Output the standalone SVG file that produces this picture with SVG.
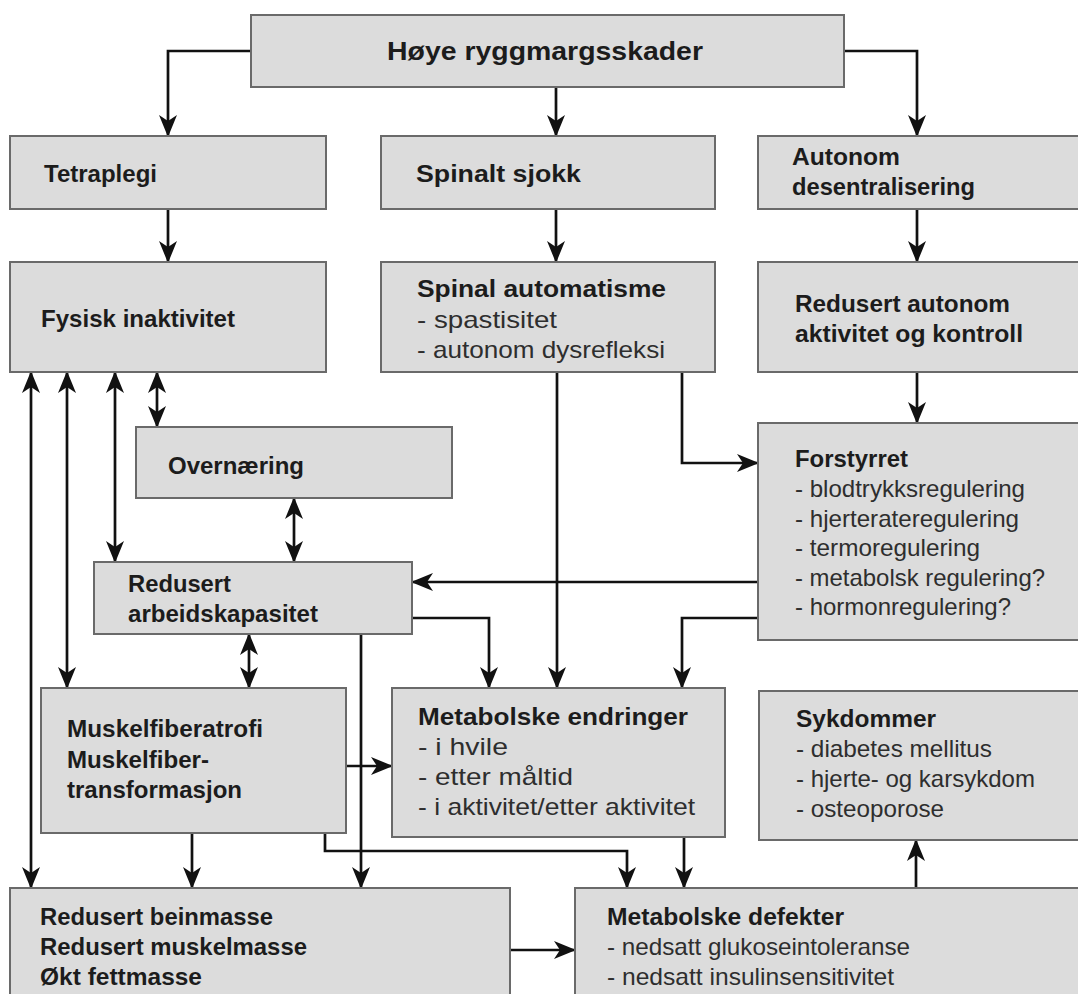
<svg xmlns="http://www.w3.org/2000/svg" width="1078" height="994" viewBox="0 0 1078 994">
<defs>
<style>
.box{fill:#dcdcdc;stroke:#6a6a6a;stroke-width:2}
.b{font-family:"Liberation Sans",Arial,sans-serif;font-weight:bold;font-size:24px;fill:#1c1c1c}
.r{font-family:"Liberation Sans",Arial,sans-serif;font-size:24px;fill:#2e2e2e}
text{lengthAdjust:spacingAndGlyphs}
.c{fill:none;stroke:#111;stroke-width:2.7}
.a{marker-end:url(#ah)}
.d{marker-start:url(#ah);marker-end:url(#ah)}
</style>
<marker id="ah" viewBox="0 0 22 20" refX="21" refY="10" markerWidth="22" markerHeight="20" markerUnits="userSpaceOnUse" orient="auto-start-reverse">
<path d="M0,1 L22,10 L0,19 L6,10 z" fill="#111"/>
</marker>
</defs>
<rect width="1078" height="994" fill="#fff"/>

<g id="connectors">
<path class="c a" d="M251,51 H168 V136"/>
<path class="c a" d="M556,87 V136"/>
<path class="c a" d="M844,51 H917 V136"/>
<path class="c a" d="M168,209 V262"/>
<path class="c a" d="M556,209 V262"/>
<path class="c a" d="M917,209 V262"/>
<path class="c a" d="M917,372 V423"/>
<path class="c a" d="M682,372 V463 H758"/>
<path class="c a" d="M557,372 V688"/>
<path class="c a" d="M758,582 H412"/>
<path class="c a" d="M758,618 H682 V688"/>
<path class="c a" d="M412,618 H489 V688"/>
<path class="c a" d="M361,634 V888"/>
<path class="c d" d="M249,634 V688"/>
<path class="c d" d="M157,372 V427"/>
<path class="c d" d="M294,498 V562"/>
<path class="c d" d="M115,372 V562"/>
<path class="c d" d="M67,372 V688"/>
<path class="c d" d="M31,372 V888"/>
<path class="c a" d="M346,766 H392"/>
<path class="c a" d="M192,833 V888"/>
<path class="c a" d="M325,833 V851 H627 V888"/>
<path class="c a" d="M684,837 V888"/>
<path class="c a" d="M510,950 H575"/>
<path class="c a" d="M916,888 V840"/>
</g>

<g id="n-hoye">
<rect class="box" x="251" y="15" width="593" height="72"/>
<text class="b" x="387" y="60" style="font-size:26px" textLength="316" lengthAdjust="spacingAndGlyphs">Høye ryggmargsskader</text>
</g>
<g id="n-tetraplegi">
<rect class="box" x="10" y="136" width="316" height="73"/>
<text class="b" x="44" y="182" textLength="113" lengthAdjust="spacingAndGlyphs">Tetraplegi</text>
</g>
<g id="n-spinalt">
<rect class="box" x="381" y="136" width="334" height="73"/>
<text class="b" x="416" y="182" textLength="165" lengthAdjust="spacingAndGlyphs">Spinalt sjokk</text>
</g>
<g id="n-autonom">
<rect class="box" x="758" y="136" width="330" height="73"/>
<text class="b" x="792" y="165" textLength="108" lengthAdjust="spacingAndGlyphs">Autonom</text>
<text class="b" x="792" y="195" textLength="183" lengthAdjust="spacingAndGlyphs">desentralisering</text>
</g>
<g id="n-fysisk">
<rect class="box" x="10" y="262" width="316" height="110"/>
<text class="b" x="41" y="327" textLength="194" lengthAdjust="spacingAndGlyphs">Fysisk inaktivitet</text>
</g>
<g id="n-spinalauto">
<rect class="box" x="381" y="262" width="334" height="110"/>
<text class="b" x="417" y="297" textLength="249" lengthAdjust="spacingAndGlyphs">Spinal automatisme</text>
<text class="r" x="417" y="328" textLength="140" lengthAdjust="spacingAndGlyphs">- spastisitet</text>
<text class="r" x="417" y="358" textLength="248" lengthAdjust="spacingAndGlyphs">- autonom dysrefleksi</text>
</g>
<g id="n-redautonom">
<rect class="box" x="758" y="262" width="330" height="110"/>
<text class="b" x="795" y="312" textLength="215" lengthAdjust="spacingAndGlyphs">Redusert autonom</text>
<text class="b" x="795" y="342" textLength="228" lengthAdjust="spacingAndGlyphs">aktivitet og kontroll</text>
</g>
<g id="n-overnaering">
<rect class="box" x="136" y="427" width="316" height="71"/>
<text class="b" x="168" y="474" textLength="136" lengthAdjust="spacingAndGlyphs">Overnæring</text>
</g>
<g id="n-forstyrret">
<rect class="box" x="758" y="423" width="330" height="217"/>
<text class="b" x="795" y="467" textLength="113" lengthAdjust="spacingAndGlyphs">Forstyrret</text>
<text class="r" x="795" y="497" textLength="230" lengthAdjust="spacingAndGlyphs">- blodtrykksregulering</text>
<text class="r" x="795" y="527" textLength="224" lengthAdjust="spacingAndGlyphs">- hjerterateregulering</text>
<text class="r" x="795" y="556" textLength="185" lengthAdjust="spacingAndGlyphs">- termoregulering</text>
<text class="r" x="795" y="586" textLength="250" lengthAdjust="spacingAndGlyphs">- metabolsk regulering?</text>
<text class="r" x="795" y="615" textLength="216" lengthAdjust="spacingAndGlyphs">- hormonregulering?</text>
</g>
<g id="n-redarbeid">
<rect class="box" x="94" y="562" width="318" height="72"/>
<text class="b" x="128" y="592" textLength="103" lengthAdjust="spacingAndGlyphs">Redusert</text>
<text class="b" x="128" y="622" textLength="190" lengthAdjust="spacingAndGlyphs">arbeidskapasitet</text>
</g>
<g id="n-muskel">
<rect class="box" x="41" y="688" width="305" height="145"/>
<text class="b" x="67" y="737" textLength="196" lengthAdjust="spacingAndGlyphs">Muskelfiberatrofi</text>
<text class="b" x="67" y="768" textLength="142" lengthAdjust="spacingAndGlyphs">Muskelfiber-</text>
<text class="b" x="67" y="798" textLength="175" lengthAdjust="spacingAndGlyphs">transformasjon</text>
</g>
<g id="n-endringer">
<rect class="box" x="392" y="688" width="333" height="149"/>
<text class="b" x="418" y="725" textLength="270" lengthAdjust="spacingAndGlyphs">Metabolske endringer</text>
<text class="r" x="418" y="755" textLength="90" lengthAdjust="spacingAndGlyphs">- i hvile</text>
<text class="r" x="418" y="785" textLength="155" lengthAdjust="spacingAndGlyphs">- etter måltid</text>
<text class="r" x="418" y="815" textLength="277" lengthAdjust="spacingAndGlyphs">- i aktivitet/etter aktivitet</text>
</g>
<g id="n-sykdommer">
<rect class="box" x="759" y="691" width="330" height="149"/>
<text class="b" x="796" y="727" textLength="140" lengthAdjust="spacingAndGlyphs">Sykdommer</text>
<text class="r" x="796" y="757" textLength="196" lengthAdjust="spacingAndGlyphs">- diabetes mellitus</text>
<text class="r" x="796" y="787" textLength="239" lengthAdjust="spacingAndGlyphs">- hjerte- og karsykdom</text>
<text class="r" x="796" y="817" textLength="148" lengthAdjust="spacingAndGlyphs">- osteoporose</text>
</g>
<g id="n-beinmasse">
<rect class="box" x="10" y="888" width="500" height="115"/>
<text class="b" x="40" y="925" textLength="233" lengthAdjust="spacingAndGlyphs">Redusert beinmasse</text>
<text class="b" x="40" y="955" textLength="267" lengthAdjust="spacingAndGlyphs">Redusert muskelmasse</text>
<text class="b" x="40" y="985" textLength="162" lengthAdjust="spacingAndGlyphs">Økt fettmasse</text>
</g>
<g id="n-defekter">
<rect class="box" x="575" y="888" width="513" height="115"/>
<text class="b" x="607" y="925" textLength="237" lengthAdjust="spacingAndGlyphs">Metabolske defekter</text>
<text class="r" x="607" y="955" textLength="303" lengthAdjust="spacingAndGlyphs">- nedsatt glukoseintoleranse</text>
<text class="r" x="607" y="985" textLength="287" lengthAdjust="spacingAndGlyphs">- nedsatt insulinsensitivitet</text>
</g>
</svg>
